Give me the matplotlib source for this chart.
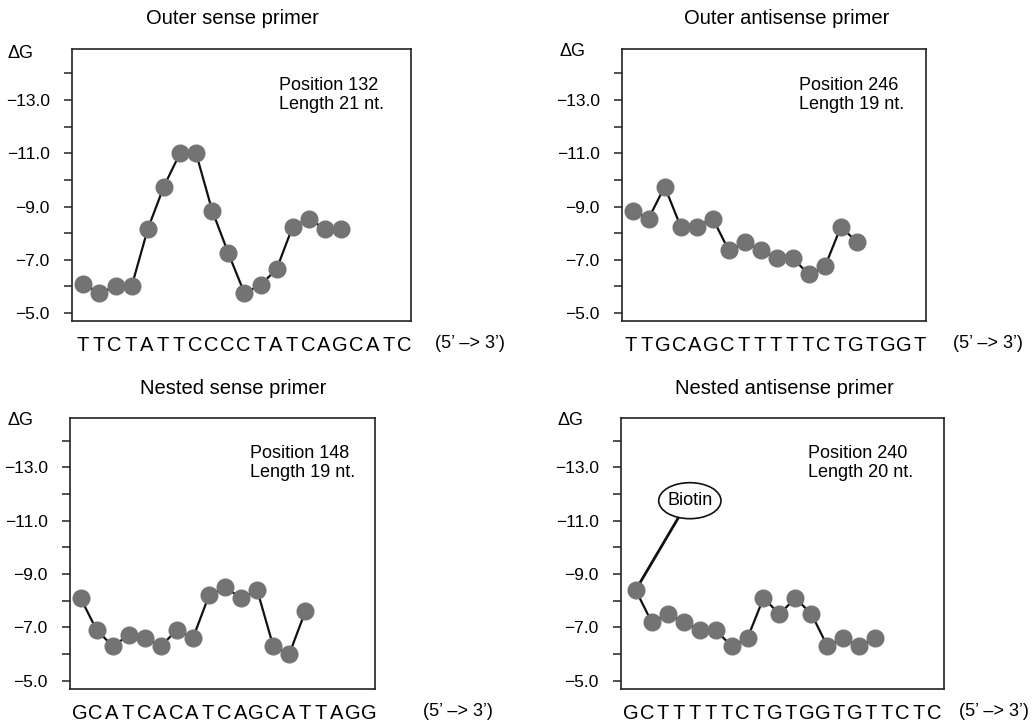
import matplotlib
matplotlib.use("Agg")
import matplotlib.pyplot as plt
from matplotlib.patches import Ellipse
from matplotlib.ticker import FixedLocator

plt.rcParams['font.family'] = ['Liberation Sans', 'DejaVu Sans']

# ---------------- data ----------------
titles = ["Outer sense primer", "Outer antisense primer",
          "Nested sense primer", "Nested antisense primer"]
sequences = ["TTCTATTCCCCTATCAGCATC", "TTGCAGCTTTTTCTGTGGT",
             "GCATCACATCAGCATTAGG", "GCTTTTTCTGTGGTGTTCTC"]
positions = [132, 246, 148, 240]
lengths = [21, 19, 19, 20]

dg_outer_sense = [-6.1, -5.75, -6.0, -6.0, -8.15, -9.75, -11.0, -11.0, -8.85,
                  -7.25, -5.75, -6.05, -6.65, -8.25, -8.55, -8.15, -8.15]
dg_outer_antisense = [-8.85, -8.55, -9.75, -8.25, -8.25, -8.55, -7.35, -7.65,
                      -7.35, -7.05, -7.05, -6.45, -6.75, -8.25, -7.65]
dg_nested_sense = [-8.1, -6.9, -6.3, -6.7, -6.6, -6.3, -6.9, -6.6, -8.2,
                   -8.5, -8.1, -8.4, -6.3, -6.0, -7.6]
dg_nested_antisense = [-8.4, -7.2, -7.5, -7.2, -6.9, -6.9, -6.3, -6.6, -8.1,
                       -7.5, -8.1, -7.5, -6.3, -6.6, -6.3, -6.6]
series = [dg_outer_sense, dg_outer_antisense, dg_nested_sense, dg_nested_antisense]

ytick_values = [-5.0, -7.0, -9.0, -11.0, -13.0]
ytick_labels = ["\u22125.0", "\u22127.0", "\u22129.0", "\u221211.0", "\u221213.0"]
yminor_values = [-6.0, -8.0, -10.0, -12.0, -14.0]

# ---------------- layout ----------------
W, H = 1035, 725
fig = plt.figure(figsize=(W / 100, H / 100), dpi=100)

# axes boxes in pixels: left, top, right, bottom
boxes = [(72, 49, 411, 321), (622, 49, 926, 321),
         (70, 418, 375, 689), (621, 418, 944, 689)]
xlims = [(-0.64, 20.4), (-0.56, 18.4), (-0.6, 18.4), (-0.62, 19.6)]
ylims = [(-4.70, -14.92), (-4.70, -14.92), (-4.69, -14.85), (-4.69, -14.85)]
point_shift = [0.06, 0.1, 0.06, 0.3]
title_pos = [(232, 18), (787, 18), (233, 388), (784, 388)]
dg_pos = [(20, 54), (572, 52), (20, 420), (571, 420)]
info_pos = [(279, 95), (799, 95), (250, 463), (808, 463)]
dir_pos = [(435, 343), (953, 343), (423, 712), (959, 712)]

point_color = "#737373"
line_color = "#111111"

for i in range(4):
    l, t, r, b = boxes[i]
    ax = fig.add_axes([l / W, 1 - b / H, (r - l) / W, (b - t) / H])
    vals = series[i]
    seq = sequences[i]
    xs = [k + point_shift[i] for k in range(len(vals))]
    ax.plot(xs, vals, color=line_color, lw=1.6, zorder=2)
    ax.plot(xs, vals, 'o', ms=12, color=point_color, mec=point_color, zorder=3)

    ax.set_xlim(*xlims[i])
    ax.set_ylim(*ylims[i])

    ax.set_yticks(ytick_values)
    ax.set_yticklabels(ytick_labels)
    ax.yaxis.set_minor_locator(FixedLocator(yminor_values))
    ax.tick_params(axis='y', which='both', direction='out', length=6, width=1.1,
                   labelsize=12.5, pad=10, color="#222222")

    ax.set_xticks(range(len(seq)))
    ax.set_xticklabels(list(seq))
    ax.xaxis.set_minor_locator(FixedLocator(list(range(len(vals)))))
    ax.tick_params(axis='x', which='major', length=0, labelsize=14.5, pad=11)
    ax.tick_params(axis='x', which='minor', direction='out', length=6, width=1.1,
                   color="#222222")

    for sp in ax.spines.values():
        sp.set_linewidth(1.2)
        sp.set_color("#222222")

    fig.text(title_pos[i][0] / W, 1 - title_pos[i][1] / H, titles[i],
             ha='center', va='center', fontsize=14.5)
    fig.text(dg_pos[i][0] / W, 1 - dg_pos[i][1] / H, "\u0394G",
             ha='center', va='center', fontsize=13)
    fig.text(info_pos[i][0] / W, 1 - info_pos[i][1] / H,
             f"Position {positions[i]}\nLength {lengths[i]} nt.",
             ha='left', va='center', fontsize=13, linespacing=1.2)
    fig.text(dir_pos[i][0] / W, 1 - dir_pos[i][1] / H, "(5\u2019 \u2013> 3\u2019)",
             ha='left', va='center', fontsize=13)

    if i == 3:
        # Biotin label
        ex, ey = 3.69, -11.75
        ax.plot([xs[0], 2.94], [vals[0], -11.08], color=line_color, lw=2.0, zorder=1)
        ax.add_patch(Ellipse((ex, ey), 3.9, 1.35, facecolor='white',
                             edgecolor=line_color, lw=1.2, zorder=4))
        ax.text(ex, ey, "Biotin", ha='center', va='center', fontsize=13, zorder=5)

fig.savefig("out.png", dpi=100)
